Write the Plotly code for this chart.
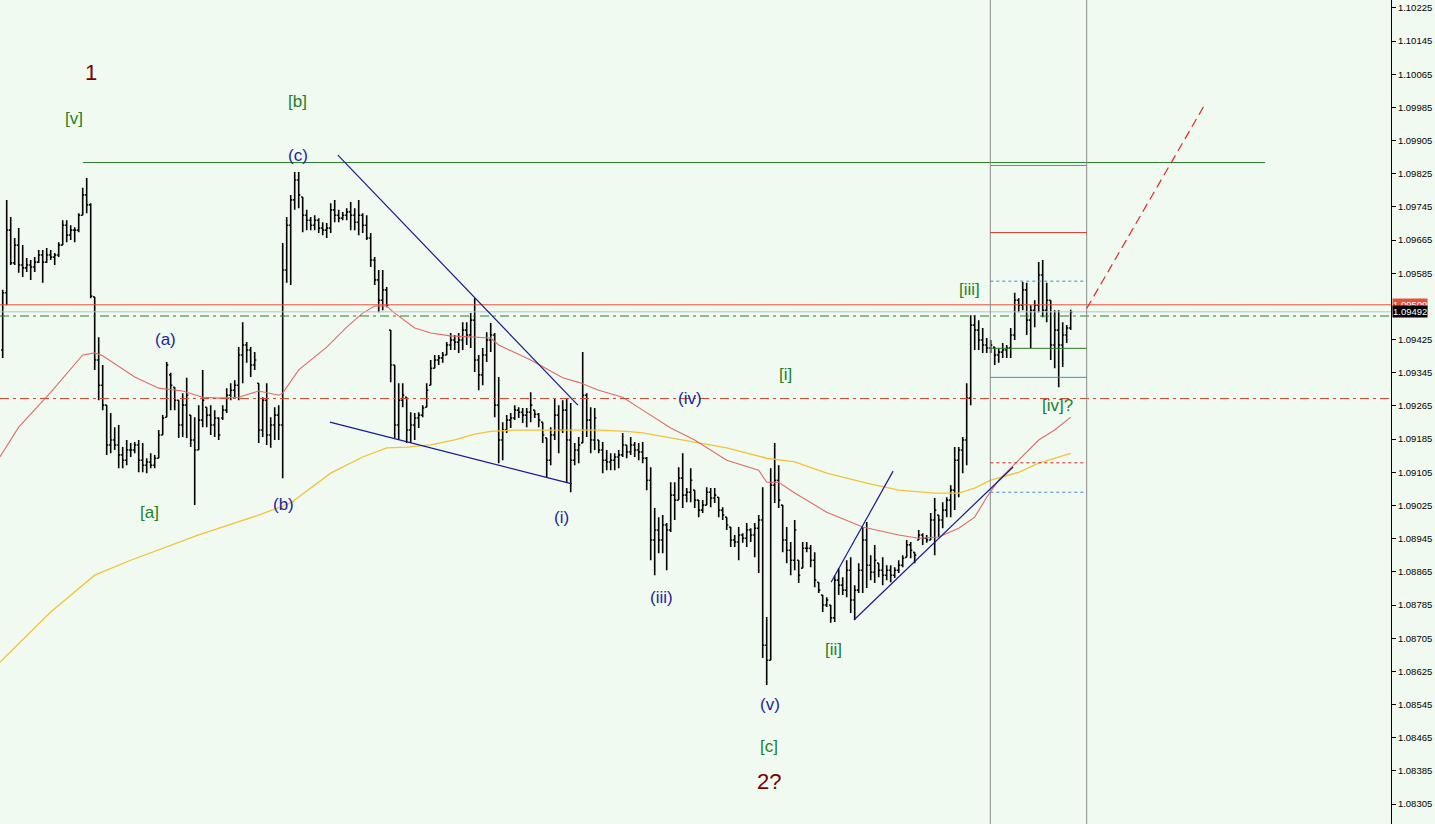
import plotly.graph_objects as go

# ---------------- OHLC data (EURUSD-like) ----------------
OPEN = [1.09400,1.09538,1.09689,1.09610,1.09653,1.09605,1.09598,1.09605,1.09600,1.09612,
1.09629,1.09612,1.09629,1.09624,1.09629,1.09653,1.09701,1.09677,1.09689,1.09689,
1.09725,1.09774,1.09750,1.09528,1.09376,1.09315,1.09267,1.09171,1.09183,1.09171,
1.09147,1.09134,1.09159,1.09159,1.09171,1.09134,1.09122,1.09130,1.09122,1.09139,
1.09195,1.09238,1.09340,1.09310,1.09279,1.09219,1.09267,1.09243,1.09183,1.09159,
1.09231,1.09262,1.09243,1.09219,1.09236,1.09236,1.09255,1.09291,1.09303,1.09315,
1.09388,1.09412,1.09400,1.09364,1.09320,1.09207,1.09279,1.09195,1.09219,1.09243,
1.09219,1.09593,1.09701,1.09762,1.09810,1.09769,1.09725,1.09713,1.09701,1.09713,
1.09694,1.09689,1.09694,1.09738,1.09725,1.09718,1.09725,1.09733,1.09725,1.09708,
1.09725,1.09701,1.09670,1.09617,1.09569,1.09520,1.09545,1.09448,1.09364,1.09219,
1.09279,1.09286,1.09207,1.09219,1.09236,1.09243,1.09262,1.09315,1.09356,1.09376,
1.09381,1.09388,1.09412,1.09424,1.09419,1.09424,1.09448,1.09436,1.09472,1.09376,
1.09340,1.09388,1.09424,1.09436,1.09267,1.09183,1.09207,1.09231,1.09236,1.09255,
1.09250,1.09243,1.09250,1.09255,1.09245,1.09226,1.09188,1.09134,1.09195,1.09243,
1.09207,1.09255,1.09183,1.09134,1.09159,1.09176,1.09291,1.09231,1.09183,1.09183,
1.09159,1.09134,1.09130,1.09134,1.09142,1.09147,1.09171,1.09154,1.09171,1.09159,
1.09154,1.09139,1.09086,1.08942,1.08966,1.08942,1.08978,1.08966,1.09050,1.09038,
1.09091,1.09050,1.09057,1.09062,1.09038,1.09014,1.09026,1.09057,1.09043,1.09045,
1.09014,1.08997,1.08973,1.08942,1.08937,1.08954,1.08946,1.08966,1.08954,1.08970,
1.08990,1.08688,1.08652,1.09074,1.09086,1.09026,1.08942,1.08917,1.08893,1.08893,
1.08874,1.08922,1.08922,1.08893,1.08840,1.08809,1.08785,1.08785,1.08754,1.08845,
1.08833,1.08821,1.08869,1.08797,1.08821,1.08869,1.08942,1.08881,1.08864,1.08886,
1.08869,1.08857,1.08869,1.08857,1.08869,1.08881,1.08900,1.08930,1.08912,1.08942,
1.08954,1.08946,1.08942,1.08990,1.09002,1.08990,1.09014,1.09038,1.09062,1.09134,
1.09159,1.09183,1.09284,1.09460,1.09448,1.09424,1.09412,1.09405,1.09407,1.09388,
1.09395,1.09400,1.09405,1.09436,1.09520,1.09508,1.09545,1.09472,1.09496,1.09508,
1.09581,1.09496,1.09520,1.09412,1.09448,1.09412,1.09436,1.09453]

HIGH = [1.09545,1.09762,1.09721,1.09670,1.09694,1.09653,1.09622,1.09617,1.09624,1.09641,
1.09641,1.09646,1.09641,1.09634,1.09660,1.09713,1.09713,1.09701,1.09696,1.09730,
1.09791,1.09815,1.09754,1.09528,1.09431,1.09364,1.09267,1.09248,1.09214,1.09219,
1.09166,1.09183,1.09176,1.09178,1.09183,1.09176,1.09139,1.09151,1.09147,1.09207,
1.09243,1.09371,1.09345,1.09310,1.09279,1.09296,1.09333,1.09243,1.09238,1.09267,
1.09352,1.09262,1.09267,1.09255,1.09238,1.09267,1.09308,1.09320,1.09327,1.09407,
1.09467,1.09419,1.09407,1.09395,1.09320,1.09286,1.09320,1.09238,1.09262,1.09267,
1.09658,1.09721,1.09774,1.09829,1.09829,1.09769,1.09738,1.09721,1.09725,1.09718,
1.09708,1.09706,1.09754,1.09762,1.09738,1.09733,1.09742,1.09757,1.09742,1.09762,
1.09730,1.09725,1.09682,1.09624,1.09593,1.09593,1.09552,1.09448,1.09364,1.09320,
1.09320,1.09286,1.09250,1.09248,1.09250,1.09267,1.09320,1.09376,1.09388,1.09388,
1.09395,1.09419,1.09441,1.09436,1.09441,1.09467,1.09467,1.09489,1.09525,1.09388,
1.09405,1.09443,1.09465,1.09441,1.09335,1.09226,1.09243,1.09248,1.09267,1.09262,
1.09260,1.09260,1.09298,1.09255,1.09248,1.09226,1.09188,1.09214,1.09284,1.09267,
1.09279,1.09284,1.09272,1.09176,1.09190,1.09395,1.09296,1.09262,1.09260,1.09183,
1.09178,1.09159,1.09151,1.09151,1.09159,1.09200,1.09171,1.09190,1.09178,1.09176,
1.09178,1.09142,1.09117,1.09019,1.08997,1.09002,1.08983,1.09081,1.09081,1.09117,
1.09151,1.09067,1.09115,1.09062,1.09038,1.09038,1.09069,1.09067,1.09067,1.09045,
1.09021,1.08997,1.08973,1.08954,1.08973,1.08958,1.08983,1.08970,1.08983,1.09002,
1.09069,1.08756,1.09115,1.09176,1.09122,1.09026,1.08973,1.08937,1.08990,1.08893,
1.08937,1.08937,1.08930,1.08912,1.08840,1.08809,1.08804,1.08785,1.08857,1.08874,
1.08852,1.08893,1.08900,1.08833,1.08886,1.08973,1.08985,1.08905,1.08930,1.08886,
1.08900,1.08881,1.08881,1.08876,1.08893,1.08905,1.08942,1.08937,1.08912,1.08966,
1.08958,1.08954,1.09007,1.09043,1.09002,1.09033,1.09045,1.09074,1.09166,1.09166,
1.09190,1.09320,1.09484,1.09484,1.09472,1.09453,1.09429,1.09424,1.09407,1.09405,
1.09417,1.09412,1.09453,1.09538,1.09525,1.09564,1.09562,1.09508,1.09520,1.09612,
1.09617,1.09562,1.09520,1.09496,1.09496,1.09467,1.09460,1.09497]

LOW = [1.09381,1.09508,1.09605,1.09605,1.09586,1.09576,1.09588,1.09569,1.09588,1.09610,
1.09562,1.09610,1.09617,1.09605,1.09624,1.09653,1.09660,1.09665,1.09660,1.09684,
1.09725,1.09730,1.09525,1.09352,1.09279,1.09255,1.09147,1.09151,1.09159,1.09115,
1.09115,1.09122,1.09142,1.09151,1.09105,1.09105,1.09103,1.09115,1.09115,1.09139,
1.09195,1.09238,1.09255,1.09255,1.09188,1.09190,1.09188,1.09166,1.09026,1.09159,
1.09214,1.09214,1.09195,1.09190,1.09183,1.09231,1.09248,1.09279,1.09286,1.09279,
1.09320,1.09369,1.09335,1.09352,1.09176,1.09190,1.09171,1.09164,1.09183,1.09183,
1.09091,1.09562,1.09557,1.09738,1.09742,1.09684,1.09689,1.09689,1.09689,1.09682,
1.09677,1.09670,1.09682,1.09708,1.09708,1.09713,1.09713,1.09689,1.09689,1.09677,
1.09682,1.09665,1.09600,1.09557,1.09491,1.09496,1.09503,1.09322,1.09188,1.09183,
1.09262,1.09176,1.09176,1.09183,1.09212,1.09238,1.09262,1.09315,1.09356,1.09364,
1.09369,1.09388,1.09400,1.09400,1.09393,1.09400,1.09412,1.09405,1.09347,1.09303,
1.09315,1.09371,1.09395,1.09238,1.09127,1.09134,1.09200,1.09212,1.09231,1.09236,
1.09224,1.09214,1.09226,1.09236,1.09214,1.09176,1.09093,1.09122,1.09183,1.09151,
1.09200,1.09079,1.09057,1.09122,1.09127,1.09176,1.09190,1.09151,1.09159,1.09151,
1.09103,1.09110,1.09110,1.09110,1.09115,1.09142,1.09139,1.09147,1.09142,1.09134,
1.09127,1.09062,1.08893,1.08857,1.08910,1.08910,1.08869,1.08961,1.08990,1.09038,
1.09019,1.09033,1.09033,1.09019,1.08997,1.09007,1.09026,1.09021,1.09031,1.08997,
1.08990,1.08966,1.08925,1.08925,1.08893,1.08935,1.08925,1.08937,1.08900,1.08862,
1.08657,1.08592,1.08652,1.09031,1.09019,1.08912,1.08886,1.08857,1.08869,1.08838,
1.08874,1.08912,1.08876,1.08828,1.08814,1.08768,1.08780,1.08742,1.08744,1.08809,
1.08809,1.08804,1.08766,1.08749,1.08814,1.08814,1.08826,1.08845,1.08838,1.08852,
1.08833,1.08845,1.08840,1.08850,1.08862,1.08876,1.08900,1.08898,1.08886,1.08942,
1.08930,1.08935,1.08942,1.08905,1.08949,1.08970,1.08997,1.08997,1.09014,1.09045,
1.09103,1.09122,1.09267,1.09400,1.09400,1.09393,1.09393,1.09393,1.09364,1.09369,
1.09381,1.09381,1.09381,1.09424,1.09491,1.09496,1.09436,1.09405,1.09455,1.09491,
1.09479,1.09467,1.09376,1.09356,1.09310,1.09359,1.09417,1.09448]

CLOSE = [1.09538,1.09689,1.09610,1.09653,1.09605,1.09598,1.09605,1.09600,1.09612,1.09629,
1.09612,1.09629,1.09624,1.09629,1.09653,1.09701,1.09677,1.09689,1.09689,1.09725,
1.09774,1.09750,1.09530,1.09376,1.09315,1.09267,1.09171,1.09183,1.09171,1.09147,
1.09134,1.09159,1.09159,1.09171,1.09134,1.09122,1.09130,1.09122,1.09139,1.09195,
1.09236,1.09364,1.09315,1.09279,1.09219,1.09267,1.09291,1.09183,1.09159,1.09231,
1.09279,1.09243,1.09219,1.09236,1.09195,1.09255,1.09291,1.09303,1.09315,1.09388,
1.09412,1.09400,1.09364,1.09376,1.09207,1.09279,1.09195,1.09219,1.09243,1.09219,
1.09593,1.09701,1.09762,1.09810,1.09774,1.09725,1.09713,1.09701,1.09713,1.09694,
1.09689,1.09694,1.09738,1.09725,1.09718,1.09725,1.09733,1.09725,1.09708,1.09725,
1.09701,1.09670,1.09617,1.09569,1.09520,1.09545,1.09508,1.09364,1.09219,1.09279,
1.09291,1.09207,1.09219,1.09236,1.09243,1.09260,1.09303,1.09356,1.09376,1.09381,
1.09388,1.09412,1.09424,1.09419,1.09424,1.09448,1.09436,1.09472,1.09376,1.09340,
1.09388,1.09424,1.09436,1.09267,1.09183,1.09207,1.09231,1.09236,1.09255,1.09250,
1.09243,1.09250,1.09267,1.09245,1.09231,1.09195,1.09134,1.09195,1.09243,1.09207,
1.09255,1.09183,1.09134,1.09159,1.09171,1.09291,1.09231,1.09183,1.09236,1.09159,
1.09134,1.09130,1.09134,1.09142,1.09147,1.09171,1.09154,1.09171,1.09159,1.09154,
1.09139,1.09086,1.08942,1.08966,1.08942,1.08978,1.08966,1.09050,1.09038,1.09091,
1.09050,1.09057,1.09086,1.09038,1.09014,1.09026,1.09057,1.09043,1.09050,1.09014,
1.09002,1.08978,1.08942,1.08937,1.08954,1.08946,1.08966,1.08954,1.08970,1.08990,
1.08688,1.08652,1.09074,1.09086,1.09038,1.08942,1.08917,1.08893,1.08966,1.08857,
1.08922,1.08922,1.08893,1.08845,1.08821,1.08785,1.08797,1.08754,1.08845,1.08833,
1.08821,1.08869,1.08797,1.08821,1.08869,1.08942,1.08881,1.08864,1.08893,1.08869,
1.08857,1.08869,1.08857,1.08869,1.08881,1.08898,1.08930,1.08917,1.08905,1.08954,
1.08946,1.08942,1.08990,1.09014,1.08990,1.09014,1.09038,1.09062,1.09134,1.09159,
1.09183,1.09284,1.09460,1.09448,1.09424,1.09412,1.09405,1.09412,1.09388,1.09395,
1.09400,1.09405,1.09436,1.09520,1.09508,1.09545,1.09472,1.09496,1.09508,1.09581,
1.09496,1.09520,1.09412,1.09448,1.09412,1.09436,1.09453,1.09492]

BAR_INDEX = list(range(len(OPEN)))

# ---------------- moving averages ----------------
RED_MA_X = [-0.7, 4, 12, 20, 23, 25, 33, 39, 45, 50, 54, 59, 64, 69, 70, 74, 81, 86, 90, 93,
            96, 98, 103, 107, 112, 117, 122, 124, 132, 140, 144, 149, 155, 160, 167, 173, 181, 189, 191, 194,
            198, 206, 215, 224, 229, 234, 239, 243, 246, 249, 254, 259, 263, 267]
RED_MA_Y = [1.09142, 1.09214, 1.09298, 1.09388, 1.09393, 1.09386, 1.09335, 1.09308, 1.09301, 1.09286,
            1.09284, 1.09286, 1.09301, 1.09291, 1.09296, 1.09352, 1.09407, 1.09455, 1.09489, 1.09506,
            1.09506, 1.09489, 1.09453, 1.09441, 1.09434, 1.09431, 1.09429, 1.09412, 1.09376, 1.09333,
            1.09322, 1.09303, 1.09286, 1.09255, 1.09212, 1.09183, 1.09134, 1.09110, 1.09081, 1.09081,
            1.09055, 1.09009, 1.08973, 1.08954, 1.08946, 1.08949, 1.08970, 1.08997, 1.09045, 1.09086,
            1.09134, 1.09183, 1.09207, 1.09238]

YELLOW_MA_X = [-0.7, 12, 23, 32, 49, 64, 72, 82, 90, 96, 101, 107, 113, 118, 122, 128, 149, 156, 160, 173,
               181, 191, 198, 206, 216, 224, 233, 239, 243, 247, 254, 259, 267]
YELLOW_MA_Y = [1.08647, 1.08768, 1.08857, 1.08893, 1.08954, 1.09002, 1.09031, 1.09103, 1.09142, 1.09164,
               1.09166, 1.09171, 1.09183, 1.09197, 1.09204, 1.09207, 1.09207, 1.09204, 1.09200, 1.09178,
               1.09164, 1.09139, 1.09130, 1.09103, 1.09079, 1.09062, 1.09055, 1.09055, 1.09067, 1.09086,
               1.09105, 1.09127, 1.09151]

# ---------------- price axis ----------------
PRICE_TICKS = [1.10225, 1.10145, 1.10065, 1.09985, 1.09905, 1.09825, 1.09745, 1.09665, 1.09585,
               1.09425, 1.09345, 1.09265, 1.09185, 1.09105, 1.09025, 1.08945, 1.08865, 1.08785,
               1.08705, 1.08625, 1.08545, 1.08465, 1.08385, 1.08305]
PRICE_TICK_TEXT = ["1.10225", "1.10145", "1.10065", "1.09985", "1.09905", "1.09825", "1.09745", "1.09665",
                   "1.09585", "1.09425", "1.09345", "1.09265", "1.09185", "1.09105", "1.09025", "1.08945",
                   "1.08865", "1.08785", "1.08705", "1.08625", "1.08545", "1.08465", "1.08385", "1.08305"]
PRICE_RANGE = [1.08257, 1.10244]
BAR_RANGE = [-0.675, 347.075]

# ---------------- horizontal levels ----------------
RESISTANCE = 1.09852          # green solid, from bar 20 to 316
RESISTANCE_SPAN = [20.1, 315.6]
RED_LEVEL = 1.09509           # red solid, full width
BID_LEVEL = 1.09492           # current price
GREEN_DASHDOT = 1.09482
RED_DASHDOT = 1.09283

# time-window box (between the two vertical lines)
BOX_SPAN = [246.9, 271.0]
BOX_BLUE_SOLID = [1.09845, 1.09334]
BOX_RED_SOLID = 1.09683
BOX_BLUE_DOT = [1.09566, 1.09057]
BOX_GREEN_SOLID = 1.09404
BOX_RED_DOT = 1.09128

# projected path (red dashed)
PROJ_X = [271.0, 300.6]
PROJ_Y = [1.09500, 1.09993]

# trend lines (navy)
TRENDLINES = [
    ([83.8, 143.8], [1.09870, 1.09267]),
    ([81.8, 142.3], [1.09226, 1.09077]),
    ([207.1, 222.6], [1.08840, 1.09108]),
    ([212.8, 252.6], [1.08749, 1.09118]),
]

# wave labels
LABEL_TEXT = ["1", "[v]", "[b]", "(c)", "(a)", "[a]", "(b)", "(i)", "(iii)", "(iv)", "[i]",
              "(v)", "[c]", "2?", "[ii]", "[iii]", "[iv]?"]
LABEL_X = [22.1, 17.8, 73.8, 73.8, 40.8, 36.8, 70.1, 139.8, 164.8, 171.8, 195.8,
           191.8, 191.6, 191.6, 207.8, 241.8, 263.6]
LABEL_Y = [1.10070, 1.09959, 1.10000, 1.09870, 1.09426, 1.09009, 1.09028, 1.08995, 1.08802, 1.09284,
           1.09340, 1.08544, 1.08445, 1.08360, 1.08679, 1.09547, 1.09265]
LABEL_DEGREE = ["primary", "minor", "minor", "minute", "minute", "minor", "minute", "minute", "minute",
                "minute", "minor", "minute", "minor", "primary", "minor", "minor", "minor"]

# ---------------- styling ----------------
BG = "#F0FAF0"
DEGREE_STYLE = {
    "primary": dict(color="#7A0000", size=22),
    "minor": dict(color="#1F7F2A", size=17),
    "minute": dict(color="#1E1EA0", size=17),
}
FONT = "Liberation Sans, Arial, sans-serif"

fig = go.Figure()

fig.add_trace(go.Scatter(x=YELLOW_MA_X, y=YELLOW_MA_Y, mode="lines",
                         line=dict(color="#F3C23A", width=1.3), hoverinfo="skip"))
fig.add_trace(go.Scatter(x=RED_MA_X, y=RED_MA_Y, mode="lines",
                         line=dict(color="#E26A6A", width=1.1), hoverinfo="skip"))

fig.add_trace(go.Ohlc(
    x=BAR_INDEX, open=OPEN, high=HIGH, low=LOW, close=CLOSE,
    increasing=dict(line=dict(color="black", width=1.6)),
    decreasing=dict(line=dict(color="black", width=1.6)),
    tickwidth=0.4, hoverinfo="skip"))

shapes = []

def hline_paper(y, color, dash="solid", width=1):
    shapes.append(dict(type="line", xref="paper", x0=0, x1=1, yref="y", y0=y, y1=y,
                       line=dict(color=color, width=width, dash=dash), layer="above"))

def seg(x0, x1, y0, y1, color, dash="solid", width=1):
    shapes.append(dict(type="line", xref="x", yref="y", x0=x0, x1=x1, y0=y0, y1=y1,
                       line=dict(color=color, width=width, dash=dash), layer="above"))

hline_paper(BID_LEVEL, "#B4C4D4")
hline_paper(RED_DASHDOT, "#D8452E", dash="9px,4px,3px,4px")
hline_paper(GREEN_DASHDOT, "#2A7F2A", dash="9px,4px,3px,4px")
hline_paper(RED_LEVEL, "#E4503A")
seg(RESISTANCE_SPAN[0], RESISTANCE_SPAN[1], RESISTANCE, RESISTANCE, "#2A7A2A")

# vertical window lines
for bx in BOX_SPAN:
    shapes.append(dict(type="line", xref="x", yref="paper", x0=bx, x1=bx, y0=0, y1=1,
                       line=dict(color="#8A8A8A", width=1), layer="above"))
for lv in BOX_BLUE_SOLID:
    seg(BOX_SPAN[0], BOX_SPAN[1], lv, lv, "#3C90D8")
seg(BOX_SPAN[0], BOX_SPAN[1], BOX_RED_SOLID, BOX_RED_SOLID, "#D42828")
for lv in BOX_BLUE_DOT:
    seg(BOX_SPAN[0], BOX_SPAN[1], lv, lv, "#4A86C8", dash="3px,3px")
seg(BOX_SPAN[0], BOX_SPAN[1], BOX_GREEN_SOLID, BOX_GREEN_SOLID, "#2A7A2A")
seg(BOX_SPAN[0], BOX_SPAN[1], BOX_RED_DOT, BOX_RED_DOT, "#D42828", dash="3px,3px")

seg(PROJ_X[0], PROJ_X[1], PROJ_Y[0], PROJ_Y[1], "#E02828", dash="9px,5px", width=1.2)

for xs, ys in TRENDLINES:
    seg(xs[0], xs[1], ys[0], ys[1], "#1A1A90", width=1.2)

annotations = []
for t, x, y, d in zip(LABEL_TEXT, LABEL_X, LABEL_Y, LABEL_DEGREE):
    st = DEGREE_STYLE[d]
    annotations.append(dict(x=x, y=y, xref="x", yref="y", text=t, showarrow=False,
                            font=dict(family=FONT, size=st["size"], color=st["color"]),
                            xanchor="center", yanchor="middle"))

# price tags on the axis
annotations.append(dict(x=1, xref="paper", xanchor="left", xshift=1, y=RED_LEVEL, yref="y",
                        yanchor="middle", text="1.09509", showarrow=False, bgcolor="#E4503A",
                        borderpad=0, font=dict(family=FONT, size=9.5, color="white")))
annotations.append(dict(x=1, xref="paper", xanchor="left", xshift=1, y=BID_LEVEL, yref="y",
                        yanchor="middle", text="1.09492", showarrow=False, bgcolor="#000000",
                        borderpad=0, font=dict(family=FONT, size=9.5, color="white")))

fig.update_layout(
    width=1435, height=824,
    margin=dict(l=0, r=44, t=0, b=0, autoexpand=False),
    paper_bgcolor=BG, plot_bgcolor=BG,
    showlegend=False,
    shapes=shapes, annotations=annotations,
    xaxis=dict(range=BAR_RANGE, visible=False, rangeslider=dict(visible=False),
               showgrid=False, zeroline=False),
    yaxis=dict(range=PRICE_RANGE, side="right", showgrid=False, zeroline=False,
               tickmode="array", tickvals=PRICE_TICKS, ticktext=PRICE_TICK_TEXT,
               ticks="outside", ticklen=4, tickcolor="black",
               showline=True, linecolor="black", linewidth=1,
               tickfont=dict(family=FONT, size=9.5, color="black")),
)

fig.write_html("out.html", config={"displayModeBar": False},
               post_script="document.body.style.margin='0';document.body.style.overflow='hidden';")
